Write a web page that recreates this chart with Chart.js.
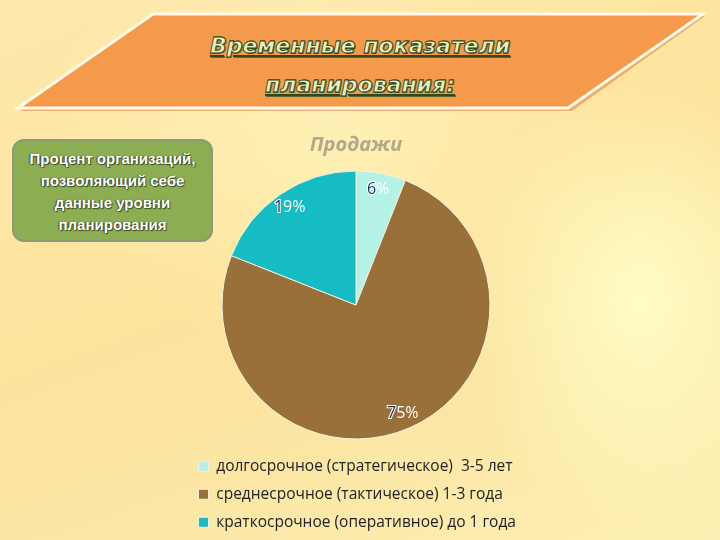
<!DOCTYPE html>
<html>
<head>
<meta charset="utf-8">
<script src="https://cdn.jsdelivr.net/npm/chart.js@4"></script>
<style>
  html, body { margin: 0; padding: 0; }
  body {
    width: 720px; height: 540px; overflow: hidden; position: relative;
    background:
      radial-gradient(ellipse 260px 330px at 640px 300px, rgba(255,255,200,0.9), rgba(255,255,200,0) 70%),
      radial-gradient(ellipse 420px 300px at 330px 140px, rgba(255,245,190,0.7), rgba(255,245,190,0) 70%),
      linear-gradient(160deg, #fde9ae 0%, #fde39c 45%, #fbe6a4 70%, #fef0b4 100%);
    font-family: "Liberation Sans", Arial, sans-serif;
  }
  #banner { position: absolute; left: 0; top: 0; }
  .head {
    position: absolute; left: 160px; width: 400px; text-align: center;
    font-family: "DejaVu Sans", sans-serif; font-weight: bold; font-style: italic;
    font-size: 22px; color: #e6f0bc; text-decoration: underline;
    -webkit-text-stroke: 0.8px #34451c;
    text-shadow: 1px 1px 0 #5c6b30;
  }
  #note {
    position: absolute; left: 12px; top: 139px; width: 201px; height: 103px;
    background: #8dad52; border: 2px solid #8c9a78; border-radius: 12px;
    color: #ffffff; font-weight: bold; font-size: 15px; line-height: 22px;
    text-align: center; box-sizing: border-box; padding-top: 7px;
    text-shadow: 1px 1px 1px #3a4a22, -1px 0 1px #3a4a22;
  }
  #wrap { position: absolute; left: 186px; top: 124px; width: 360px; height: 416px; }
</style>
</head>
<body>
<svg id="banner" width="720" height="130">
  <polygon points="155,16 705,16 572,111 20,111" fill="#d87a32" opacity="0.5"/>
  <polygon points="153,14 703,14 568,108 18,108" fill="#f59a4b" stroke="#fffbe8" stroke-width="3"/>
</svg>
<div class="head" style="top:33px">Временные показатели</div>
<div class="head" style="top:72px">планирования:</div>
<div id="note">Процент организаций,<br>позволяющий себе<br>данные уровни<br>планирования</div>
<div id="wrap"><canvas id="pie" width="360" height="416"></canvas></div>
<script>
const categories = [
  'долгосрочное (стратегическое)  3-5 лет',
  'среднесрочное (тактическое) 1-3 года',
  'краткосрочное (оперативное) до 1 года'
];
const shares = [6, 75, 19];
const sliceColors = ['#b6f1e5', '#997039', '#15bcc3'];

// percent labels drawn inside each slice, first digit dark like the original
const sliceLabels = {
  id: 'sliceLabels',
  afterDatasetsDraw(chart) {
    const ctx = chart.ctx;
    const arcs = chart.getDatasetMeta(0).data;
    ctx.save();
    ctx.font = '16px "Open Sans", "DejaVu Sans", sans-serif';
    ctx.textBaseline = 'middle';
    arcs.forEach((arc, i) => {
      const mid = (arc.startAngle + arc.endAngle) / 2;
      const r = arc.outerRadius * 0.88;
      const x = arc.x + Math.cos(mid) * r;
      const y = arc.y + Math.sin(mid) * r;
      const txt = shares[i] + '%';
      const w = ctx.measureText(txt).width;
      const first = txt.charAt(0);
      const rest = txt.slice(1);
      const fw = ctx.measureText(first).width;
      let x0 = x - w / 2;
      ctx.textAlign = 'left';
      ctx.lineWidth = 2;
      ctx.strokeStyle = '#ffffff';
      ctx.strokeText(first, x0, y);
      ctx.fillStyle = '#15305a';
      ctx.fillText(first, x0, y);
      ctx.fillStyle = '#ffffff';
      ctx.fillText(rest, x0 + fw, y);
    });
    ctx.restore();
  }
};

new Chart(document.getElementById('pie'), {
  type: 'pie',
  data: {
    labels: categories,
    datasets: [{
      data: shares,
      backgroundColor: sliceColors,
      borderColor: '#f4f1dc',
      borderWidth: 1,
      radius: 134
    }]
  },
  options: {
    responsive: false,
    animation: false,
    layout: { padding: { left: 0, right: 20, top: 0, bottom: 0 } },
    plugins: {
      title: {
        display: true,
        text: 'Продажи',
        color: '#b3a88c',
        font: { family: '"Open Sans", "DejaVu Sans", sans-serif', size: 20, weight: 'bold', style: 'italic' },
        padding: { top: 9, bottom: 7 }
      },
      legend: {
        position: 'bottom',
        align: 'start',
        labels: {
          color: '#222222',
          font: { family: '"Open Sans", "DejaVu Sans", sans-serif', size: 15.5 },
          boxWidth: 10,
          boxHeight: 10,
          padding: 12.5
        }
      },
      tooltip: { enabled: false }
    }
  },
  plugins: [sliceLabels]
});
</script>
</body>
</html>
